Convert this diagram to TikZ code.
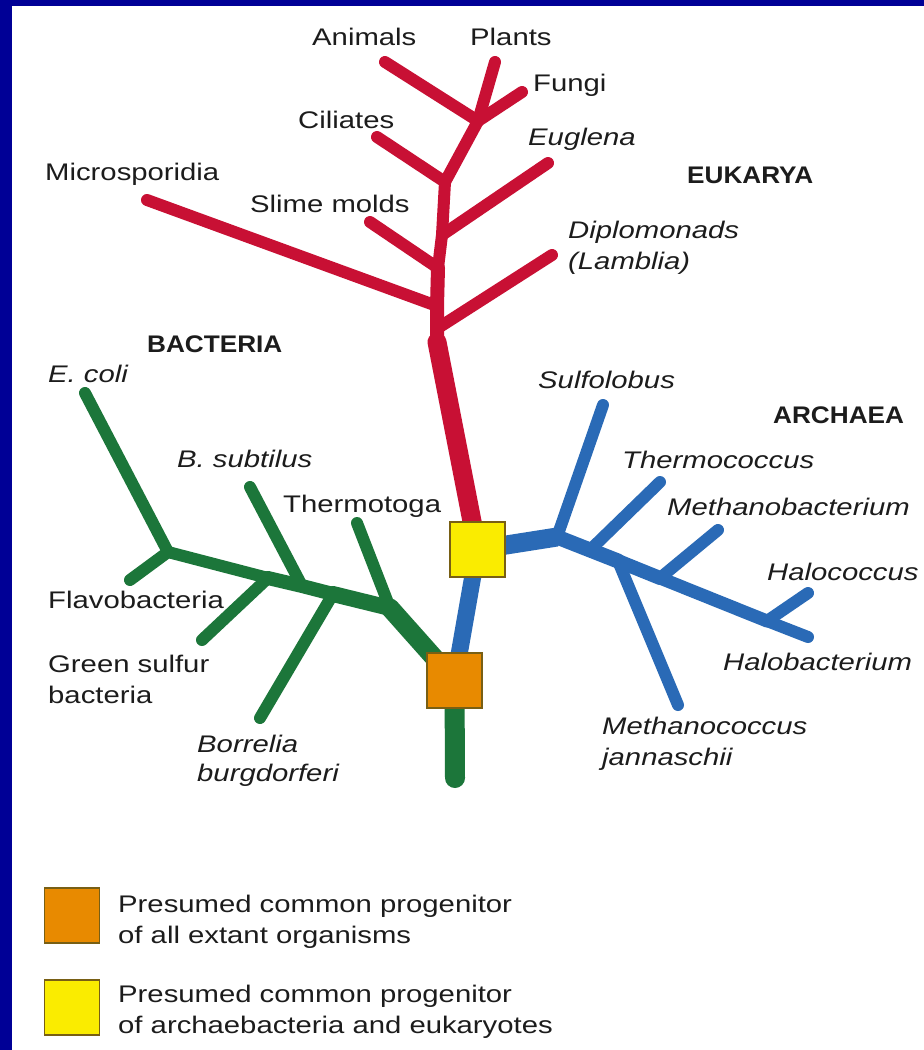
\documentclass[tikz,border=0pt]{standalone}
\usepackage{fontspec}
\setmainfont{Liberation Sans}
\newfontfamily\lblfont[FakeStretch=1.22]{Liberation Sans}
\newfontfamily\grpfont[FakeStretch=1.09]{Liberation Sans}
\usetikzlibrary{positioning,calc}
\definecolor{framebl}{RGB}{0,0,150}
\definecolor{eukred}{RGB}{200,16,52}
\definecolor{bacgreen}{RGB}{28,118,58}
\definecolor{arcblue}{RGB}{42,106,182}
\definecolor{progyel}{RGB}{250,236,0}
\definecolor{progorg}{RGB}{232,138,0}
\definecolor{txtgray}{RGB}{28,28,28}
\definecolor{boxedge}{RGB}{120,95,20}
\tikzset{
  lbl/.style={font=\lblfont\fontsize{24}{31}\selectfont,text=txtgray,inner sep=0pt,anchor=base west,align=left},
  ilbl/.style={lbl,font=\lblfont\itshape\fontsize{24}{31}\selectfont},
  grp/.style={lbl,font=\grpfont\bfseries\fontsize{24}{31}\selectfont},
  br/.style={line width=12pt,line cap=round,line join=round},
  progbox/.style={draw=boxedge,line width=1.2pt,minimum size=55pt,inner sep=0pt}
}

\begin{document}
\begin{tikzpicture}[x=1pt,y=-1pt]
\useasboundingbox (0,0) rectangle (924,1050);
\fill[framebl] (0,0) rectangle (924,1050);
\fill[white] (12,6) rectangle (924,1050);

\node[progbox,fill=progyel] (yb) at (477.5,549.5) {};
\node[progbox,fill=progorg] (ob) at (454.5,680.5) {};

% eukarya
\coordinate (euAnim) at (385,62);
\coordinate (euPlan) at (495,62);
\coordinate (euFung) at (522,92);
\coordinate (euCil) at (377,137);
\coordinate (euEug) at (548,163);
\coordinate (euSli) at (370,222);
\coordinate (euDip) at (552,255);
\coordinate (euMic) at (147,200);
\coordinate (euJa) at (478,121);
\coordinate (euJb) at (445,182);
\coordinate (euJc) at (442,235);
\coordinate (euJd) at (438,268);
\coordinate (euJe) at (437,306);
\coordinate (euJf) at (438,328);
\coordinate (euJg) at (437,342);
\foreach \a/\b in {euAnim/euJa,euPlan/euJa,euFung/euJa,euCil/euJb,euEug/euJc,euSli/euJd,euMic/euJe,euDip/euJf}
  \draw[br,eukred] (\a) -- (\b);
\draw[br,eukred] (euJa) -- (euJb) -- (euJc) -- (euJd);
\draw[br,eukred,line width=14pt] (euJd) -- (euJe) -- (euJg);
\draw[br,eukred,line width=19pt] (euJg) -- (yb.center);

% bacteria
\coordinate (baRoot) at (455,778);
\coordinate (baEco) at (85,393);
\coordinate (baFla) at (130,580);
\coordinate (baSub) at (250,487);
\coordinate (baGre) at (202,640);
\coordinate (baBor) at (260,718);
\coordinate (baThe) at (357,523);
\coordinate (baJe) at (168,552);
\coordinate (baJg) at (268,578);
\coordinate (baJs) at (302,586);
\coordinate (baJb) at (333,594);
\coordinate (baJt) at (390,608);
\foreach \a/\b in {baEco/baJe,baFla/baJe,baSub/baJs,baGre/baJg,baBor/baJb,baThe/baJt}
  \draw[br,bacgreen] (\a) -- (\b);
\draw[br,bacgreen] (baJe) -- (baJg);
\draw[br,bacgreen,line width=14pt] (baJg) -- (baJs) -- (baJb);
\draw[br,bacgreen,line width=16pt] (baJb) -- (baJt);
\draw[br,bacgreen,line width=19pt] (baJt) -- (ob.center);
\draw[bacgreen,line width=20pt,line cap=round] (ob.center) -- (baRoot);

% archaea
\coordinate (arSul) at (603,405);
\coordinate (arThc) at (660,482);
\coordinate (arMeb) at (718,530);
\coordinate (arMec) at (678,705);
\coordinate (arHac) at (808,593);
\coordinate (arHab) at (808,637);
\coordinate (arJ) at (557,537);
\coordinate (arJt) at (590,550);
\coordinate (arJm) at (618,561);
\coordinate (arJb) at (660,578);
\coordinate (arJh) at (767,621);
\foreach \a/\b in {arSul/arJ,arThc/arJt,arMeb/arJb,arMec/arJm,arHac/arJh}
  \draw[br,arcblue] (\a) -- (\b);
\draw[br,arcblue,line width=15pt] (arJ) -- (arJm);
\draw[br,arcblue,line width=14pt] (arJm) -- (arJb);
\draw[br,arcblue,line width=13pt] (arJb) -- (arJh);
\draw[br,arcblue] (arJh) -- (arHab);
\draw[arcblue,line width=19pt,line join=round] (yb.center) -- (arJ);
\draw[arcblue,line width=17pt] (ob.center) -- (yb.center);

\node[progbox,fill=progyel] (yb2) at (yb) {};
\node[progbox,fill=progorg] (ob2) at (ob) {};

% labels
\node[lbl] (tAnim) at (312,45) {Animals};
\node[lbl] (tPlan) at (470,45) {Plants};
\node[lbl] (tFung) at (533,91) {Fungi};
\node[lbl] (tCil) at (298,128) {Ciliates};
\node[ilbl] (tEug) at (528,145) {Euglena};
\node[lbl] (tMic) at (45,180) {Microsporidia};
\node[lbl] (tSli) at (250,212) {Slime molds};
\node[grp] (tEuk) at (687,183) {EUKARYA};
\node[ilbl] (tDip) at (568,269) {Diplomonads\\(Lamblia)};
\node[grp] (tBac) at (147,352) {BACTERIA};
\node[ilbl] (tEco) at (48,382) {E. coli};
\node[ilbl] (tSub) at (177,467) {B. subtilus};
\node[lbl] (tThe) at (283,512) {Thermotoga};
\node[lbl] (tFla) at (48,608) {Flavobacteria};
\node[lbl] (tGre) at (48,703) {Green sulfur\\bacteria};
\node[ilbl,font=\lblfont\itshape\fontsize{24}{29}\selectfont] (tBor) at (197,781) {Borrelia\\burgdorferi};
\node[ilbl] (tSul) at (538,388) {Sulfolobus};
\node[grp] (tArc) at (773,423) {ARCHAEA};
\node[ilbl] (tThc) at (622,468) {Thermococcus};
\node[ilbl] (tMeb) at (667,515) {Methanobacterium};
\node[ilbl] (tHac) at (767,580) {Halococcus};
\node[ilbl] (tHab) at (723,670) {Halobacterium};
\node[ilbl] (tMec) at (602,765) {Methanococcus\\jannaschii};

% legend
\node[progbox,fill=progorg] (lgO) at (72,915.5) {};
\node[progbox,fill=progyel] (lgY) at (72,1007.5) {};
\node[lbl] (tLgO) at (118,943) {Presumed common progenitor\\of all extant organisms};
\node[lbl] (tLgY) at (118,1033) {Presumed common progenitor\\of archaebacteria and eukaryotes};
\end{tikzpicture}
\end{document}
